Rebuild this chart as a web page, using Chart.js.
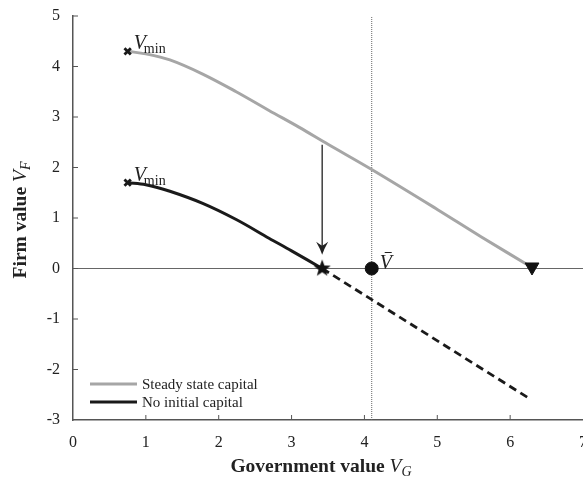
<!DOCTYPE html>
<html lang="en">
<head>
<meta charset="UTF-8">
<title>Firm value vs government value</title>
<script src="https://cdn.jsdelivr.net/npm/chart.js"></script>
<style>
  html, body { margin: 0; padding: 0; background: #fff; overflow: hidden; }
  #wrap { width: 600px; height: 478px; }
</style>
</head>
<body>
<div id="wrap"><canvas id="grafico" width="600" height="478"></canvas></div>
<script>
  // values
  const steadyX = [0.75, 1.0, 1.33, 1.78, 2.24, 2.69, 3.1, 3.5, 4.1, 5.0, 5.6, 6.3];
  const steadyY = [4.3, 4.25, 4.13, 3.85, 3.5, 3.13, 2.8, 2.46, 1.96, 1.17, 0.63, 0.02];

  const noCapX = [0.75, 1.0, 1.33, 1.78, 2.24, 2.69, 3.0, 3.42];
  const noCapY = [1.7, 1.66, 1.53, 1.29, 0.97, 0.6, 0.35, 0.0];

  const dashX = [3.42, 6.27];
  const dashY = [0.0, -2.58];

  const vminX = [0.75, 0.75];
  const vminY = [4.3, 1.7];

  const starX = [3.42], starY = [0];
  const vbarX = [4.1], vbarY = [0];
  const triX = [6.3], triY = [0.03];

  const arrowX = 3.42, arrowFrom = 2.45, arrowTo = 0.27;

  const xTicks = [0, 1, 2, 3, 4, 5, 6, 7];
  const yTicks = [5, 4, 3, 2, 1, 0, -1, -2, -3];

  const serif = '"Liberation Serif", "DejaVu Serif", serif';

  function pts(xs, ys) { return xs.map((x, i) => ({ x: x, y: ys[i] })); }

  // filled five point star for the marker
  function makeStar(r) {
    const c = document.createElement('canvas');
    c.width = c.height = r * 2 + 2;
    const g = c.getContext('2d');
    g.fillStyle = '#111';
    g.beginPath();
    for (let i = 0; i < 10; i++) {
      const rr = i % 2 === 0 ? r : r * 0.42;
      const a = -Math.PI / 2 + i * Math.PI / 5;
      const px = r + 1 + rr * Math.cos(a), py = r + 1 + rr * Math.sin(a);
      if (i === 0) g.moveTo(px, py); else g.lineTo(px, py);
    }
    g.closePath();
    g.fill();
    return c;
  }

  function drawRuns(ctx, runs, x, y) {
    // runs: [text, font, dy]; x is centre of the whole string
    let w = 0;
    runs.forEach(r => { ctx.font = r[1]; w += ctx.measureText(r[0]).width; });
    let cx = x - w / 2;
    ctx.textAlign = 'left';
    ctx.textBaseline = 'alphabetic';
    runs.forEach(r => {
      ctx.font = r[1];
      ctx.fillText(r[0], cx, y + (r[2] || 0));
      cx += ctx.measureText(r[0]).width;
    });
  }

  const extras = {
    id: 'extras',
    afterDatasetsDraw(chart) {
      const ctx = chart.ctx;
      const xs = chart.scales.x, ys = chart.scales.y;
      const area = chart.chartArea;
      ctx.save();
      ctx.fillStyle = '#222';
      ctx.strokeStyle = '#222';

      // arrow
      const ax = xs.getPixelForValue(arrowX);
      const y1 = ys.getPixelForValue(arrowFrom), y2 = ys.getPixelForValue(arrowTo);
      ctx.lineWidth = 1.3;
      ctx.beginPath(); ctx.moveTo(ax, y1); ctx.lineTo(ax, y2 - 6); ctx.stroke();
      ctx.beginPath();
      ctx.moveTo(ax, y2);
      ctx.quadraticCurveTo(ax - 2, y2 - 6, ax - 6, y2 - 13);
      ctx.quadraticCurveTo(ax - 2, y2 - 10, ax, y2 - 9);
      ctx.quadraticCurveTo(ax + 2, y2 - 10, ax + 6, y2 - 13);
      ctx.quadraticCurveTo(ax + 2, y2 - 6, ax, y2);
      ctx.fill();

      // V_min labels
      ctx.textAlign = 'left';
      ctx.textBaseline = 'alphabetic';
      vminX.forEach((v, i) => {
        const px = xs.getPixelForValue(v) + 6, py = ys.getPixelForValue(vminY[i]) - 2;
        ctx.font = 'italic 20px ' + serif;
        ctx.fillText('V', px, py);
        const w = ctx.measureText('V').width;
        ctx.font = '14px ' + serif;
        ctx.fillText('min', px + w - 2, py + 4);
      });

      // V bar label
      const bx = xs.getPixelForValue(vbarX[0]) + 8, by = ys.getPixelForValue(vbarY[0]);
      ctx.font = 'italic 20px ' + serif;
      ctx.fillText('V', bx, by);
      ctx.lineWidth = 1;
      ctx.beginPath(); ctx.moveTo(bx + 5, by - 16); ctx.lineTo(bx + 12, by - 16); ctx.stroke();

      // inward tick marks
      ctx.strokeStyle = '#555';
      ctx.lineWidth = 1;
      xTicks.forEach(t => {
        if (t === 0 || t === 7) return;
        const px = xs.getPixelForValue(t);
        ctx.beginPath(); ctx.moveTo(px, area.bottom); ctx.lineTo(px, area.bottom - 5); ctx.stroke();
      });
      yTicks.forEach(t => {
        if (t === -3) return;
        const py = ys.getPixelForValue(t);
        ctx.beginPath(); ctx.moveTo(area.left, py); ctx.lineTo(area.left + 5, py); ctx.stroke();
      });

      // legend
      const lx = area.left + 17;
      const legend = [['Steady state capital', '#a6a6a6', 384], ['No initial capital', '#1a1a1a', 402]];
      legend.forEach(l => {
        ctx.strokeStyle = l[1];
        ctx.lineWidth = 3;
        ctx.beginPath(); ctx.moveTo(lx, l[2]); ctx.lineTo(lx + 47, l[2]); ctx.stroke();
        ctx.font = '15px ' + serif;
        ctx.fillStyle = '#222';
        ctx.textBaseline = 'middle';
        ctx.fillText(l[0], lx + 52, l[2] + 1);
      });

      // axis titles
      ctx.fillStyle = '#222';
      drawRuns(ctx, [['Government value ', 'bold 19.5px ' + serif], ['V', 'italic 19.5px ' + serif], ['G', 'italic 14px ' + serif, 4]], 321, 472);
      ctx.save();
      ctx.translate(26, 220);
      ctx.rotate(-Math.PI / 2);
      drawRuns(ctx, [['Firm value ', 'bold 19.5px ' + serif], ['V', 'italic 19.5px ' + serif], ['F', 'italic 14px ' + serif, 4]], 0, 0);
      ctx.restore();

      ctx.restore();
    }
  };

  const ctx = document.getElementById('grafico').getContext('2d');
  new Chart(ctx, {
    type: 'scatter',
    data: {
      datasets: [
        { data: pts(vminX, vminY), pointStyle: 'crossRot', pointRadius: 4.5, pointBorderWidth: 2.8, borderColor: '#1a1a1a', showLine: false },
        { data: pts(starX, starY), pointStyle: makeStar(9), showLine: false },
        { data: pts(vbarX, vbarY), pointStyle: 'circle', pointRadius: 6.5, backgroundColor: '#111', borderColor: '#111', showLine: false },
        { data: pts(triX, triY), pointStyle: 'triangle', rotation: 180, pointRadius: 8, backgroundColor: '#111', borderColor: '#111', showLine: false },
        { data: pts(steadyX, steadyY), showLine: true, borderColor: '#a6a6a6', borderWidth: 3, pointRadius: 0, tension: 0.35 },
        { data: pts(noCapX, noCapY), showLine: true, borderColor: '#1a1a1a', borderWidth: 3, pointRadius: 0, tension: 0.35 },
        { data: pts(dashX, dashY), showLine: true, borderColor: '#1a1a1a', borderWidth: 2.8, borderDash: [8, 5], pointRadius: 0 },
        { data: [{ x: 4.1, y: -3 }, { x: 4.1, y: 5 }], showLine: true, borderColor: '#666', borderWidth: 1, borderDash: [1, 1], pointRadius: 0 },
        { data: [{ x: 0, y: 0 }, { x: 7, y: 0 }], showLine: true, borderColor: '#666', borderWidth: 1, pointRadius: 0 }
      ]
    },
    options: {
      responsive: false,
      animation: false,
      layout: { padding: { top: 0, right: 9, left: 0, bottom: 0 } },
      plugins: { legend: { display: false }, tooltip: { enabled: false } },
      scales: {
        x: {
          type: 'linear', min: 0, max: 7,
          afterBuildTicks: s => { s.ticks = xTicks.map(v => ({ value: v })); },
          afterFit: s => { s.height = 58; },
          ticks: { color: '#222', font: { family: serif, size: 16 }, padding: 13 },
          grid: { display: false, drawTicks: false },
          border: { display: true, color: '#555', width: 1.5 }
        },
        y: {
          min: -3, max: 5,
          afterBuildTicks: s => { s.ticks = yTicks.map(v => ({ value: v })); },
          afterFit: s => { s.width = 73; s.paddingTop = 16; s.paddingBottom = 0; },
          ticks: { color: '#222', font: { family: serif, size: 16 }, padding: 13 },
          grid: { display: false, drawTicks: false },
          border: { display: true, color: '#555', width: 1.5 }
        }
      }
    },
    plugins: [extras]
  });
</script>
</body>
</html>
